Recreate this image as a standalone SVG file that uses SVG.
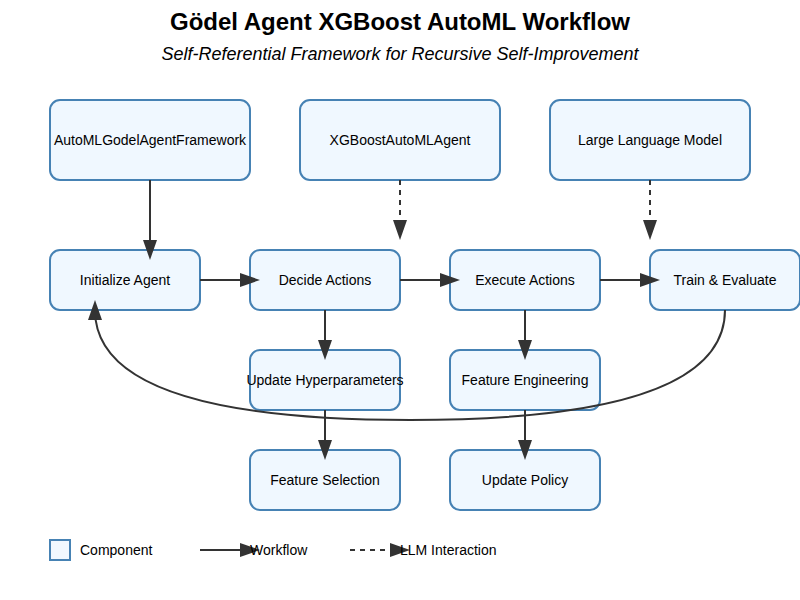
<svg xmlns="http://www.w3.org/2000/svg" width="800" height="600" viewBox="0 0 800 600">
<style>
.node rect{fill:#f0f8ff;stroke:#4682b4;stroke-width:2}
.node text{font-family:"Liberation Sans",Arial,sans-serif;font-size:14px;fill:#000;text-anchor:middle}
.conn{stroke:#333;stroke-width:2;fill:none}
.dash{stroke-dasharray:5,5}
.legend{font-family:"Liberation Sans",Arial,sans-serif;font-size:14px;fill:#000}
</style>
<defs>
<marker id="arrow" markerWidth="10" markerHeight="7" refX="5" refY="3.5" orient="auto">
<path d="M0,0 L10,3.5 L0,7 Z" fill="#333"/>
</marker>
</defs>
<rect width="800" height="600" fill="#fff"/>
<text x="400" y="30" text-anchor="middle" font-family="'Liberation Sans',Arial,sans-serif" font-size="24" font-weight="bold" fill="#000">Gödel Agent XGBoost AutoML Workflow</text>
<text x="400" y="60" text-anchor="middle" font-family="'Liberation Sans',Arial,sans-serif" font-size="18" font-style="italic" fill="#000">Self-Referential Framework for Recursive Self-Improvement</text>

<g id="n-framework" class="node"><rect x="50" y="100" width="200" height="80" rx="10"/><text x="150" y="145">AutoMLGodelAgentFramework</text></g>
<g id="n-xgb" class="node"><rect x="300" y="100" width="200" height="80" rx="10"/><text x="400" y="145">XGBoostAutoMLAgent</text></g>
<g id="n-llm" class="node"><rect x="550" y="100" width="200" height="80" rx="10"/><text x="650" y="145">Large Language Model</text></g>

<g id="n-init" class="node"><rect x="50" y="250" width="150" height="60" rx="10"/><text x="125" y="285">Initialize Agent</text></g>
<g id="n-decide" class="node"><rect x="250" y="250" width="150" height="60" rx="10"/><text x="325" y="285">Decide Actions</text></g>
<g id="n-exec" class="node"><rect x="450" y="250" width="150" height="60" rx="10"/><text x="525" y="285">Execute Actions</text></g>
<g id="n-train" class="node"><rect x="650" y="250" width="150" height="60" rx="10"/><text x="725" y="285">Train &amp; Evaluate</text></g>

<g id="n-hyper" class="node"><rect x="250" y="350" width="150" height="60" rx="10"/><text x="325" y="385">Update Hyperparameters</text></g>
<g id="n-feng" class="node"><rect x="450" y="350" width="150" height="60" rx="10"/><text x="525" y="385">Feature Engineering</text></g>
<g id="n-fsel" class="node"><rect x="250" y="450" width="150" height="60" rx="10"/><text x="325" y="485">Feature Selection</text></g>
<g id="n-policy" class="node"><rect x="450" y="450" width="150" height="60" rx="10"/><text x="525" y="485">Update Policy</text></g>

<g id="connectors">
<line class="conn" x1="150" y1="180" x2="150" y2="250" marker-end="url(#arrow)"/>
<line class="conn dash" x1="400" y1="180" x2="400" y2="230" marker-end="url(#arrow)"/>
<line class="conn dash" x1="650" y1="180" x2="650" y2="230" marker-end="url(#arrow)"/>
<line class="conn" x1="200" y1="280" x2="250" y2="280" marker-end="url(#arrow)"/>
<line class="conn" x1="400" y1="280" x2="450" y2="280" marker-end="url(#arrow)"/>
<line class="conn" x1="600" y1="280" x2="650" y2="280" marker-end="url(#arrow)"/>
<line class="conn" x1="325" y1="310" x2="325" y2="350" marker-end="url(#arrow)"/>
<line class="conn" x1="525" y1="310" x2="525" y2="350" marker-end="url(#arrow)"/>
<line class="conn" x1="325" y1="410" x2="325" y2="450" marker-end="url(#arrow)"/>
<line class="conn" x1="525" y1="410" x2="525" y2="450" marker-end="url(#arrow)"/>
<path class="conn" d="M725,310 Q725,420 410,420 Q95,420 95,310" marker-end="url(#arrow)"/>
</g>

<g id="legend">
<rect x="50" y="540" width="20" height="20" fill="#f0f8ff" stroke="#4682b4" stroke-width="2"/>
<text class="legend" x="80" y="555">Component</text>
<line class="conn" x1="200" y1="550" x2="250" y2="550" marker-end="url(#arrow)"/>
<text class="legend" x="250" y="555">Workflow</text>
<line class="conn dash" x1="350" y1="550" x2="400" y2="550" marker-end="url(#arrow)"/>
<text class="legend" x="400" y="555">LLM Interaction</text>
</g>
</svg>
